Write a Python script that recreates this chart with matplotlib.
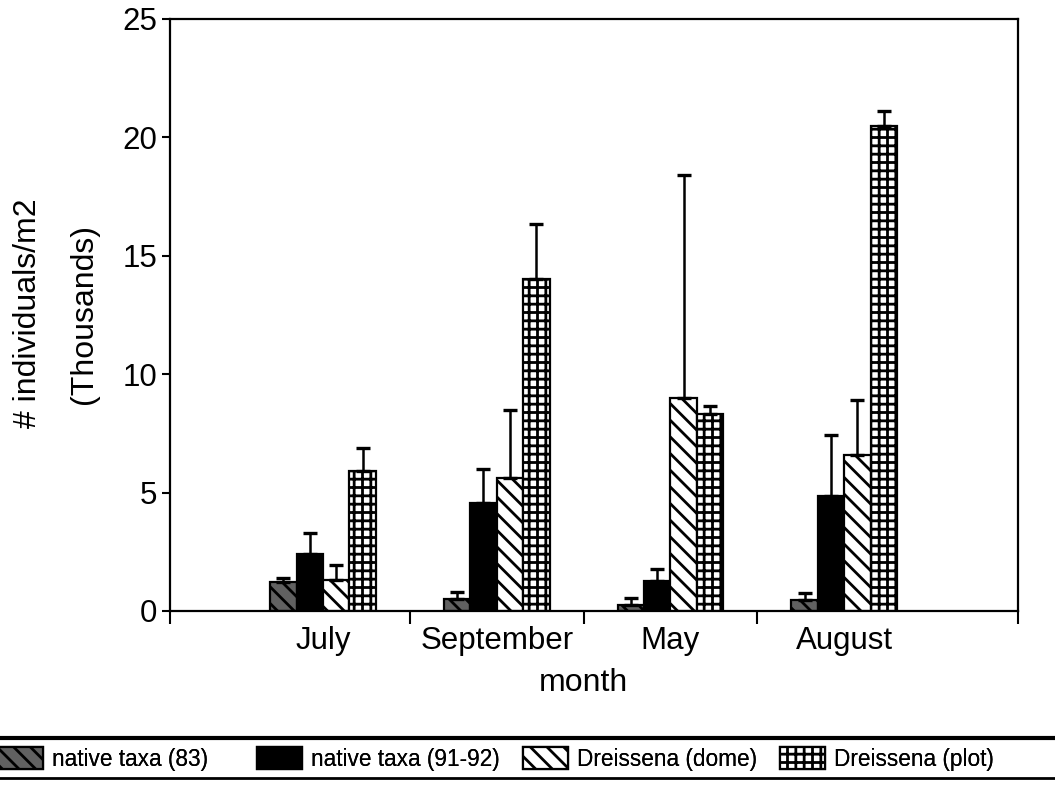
import matplotlib
matplotlib.use("Agg")
import matplotlib.pyplot as plt
import numpy as np
from matplotlib.lines import Line2D

plt.rcParams['font.family'] = ['Liberation Sans', 'DejaVu Sans']
plt.rcParams['hatch.linewidth'] = 2.0

# data (thousands of individuals per m2)
months = ["July", "September", "May", "August"]
series = ["native taxa (83)", "native taxa (91-92)", "Dreissena (dome)", "Dreissena (plot)"]
native83 = [1.22, 0.5, 0.25, 0.46]
native83_err = [0.17, 0.3, 0.3, 0.29]
native91 = [2.4, 4.55, 1.27, 4.86]
native91_err = [0.9, 1.45, 0.5, 2.57]
dome = [1.3, 5.6, 9.0, 6.6]
dome_err = [0.65, 2.9, 9.4, 2.3]
plot_ = [5.9, 14.0, 8.3, 20.5]
plot_err = [1.0, 2.35, 0.35, 0.6]

values = [native83, native91, dome, plot_]
errors = [native83_err, native91_err, dome_err, plot_err]
faces = ['0.38', 'black', 'white', 'white']
hatches = ['\\\\', None, '\\\\', '++']

fig = plt.figure(figsize=(10.55, 7.89), dpi=100)
ax = fig.add_axes([170 / 1055, 1 - 611 / 789, 848 / 1055, 592 / 789])

x = np.arange(len(months))
w = 0.152
handles = []
for i in range(4):
    pos = x + (i - 1.5) * w
    yerr = [np.zeros(len(months)), errors[i]]
    b = ax.bar(pos, values[i], w, color=faces[i], edgecolor='black', linewidth=1.6,
               hatch=hatches[i], yerr=yerr, capsize=5,
               error_kw=dict(ecolor='black', elinewidth=1.8, capthick=2.4), zorder=2)
    handles.append(b.patches[0])

ax.set_xlim(-0.88, 4.0)
ax.set_ylim(0, 25)
ax.set_yticks([0, 5, 10, 15, 20, 25])
ax.tick_params(axis='y', direction='out', length=6, width=1.5, labelsize=22.5, pad=3)

# ticks at group boundaries, labels at group centres
ax.set_xticks([-0.88, 0.5, 1.5, 2.5, 4.0])
ax.set_xticklabels([])
ax.tick_params(axis='x', which='major', direction='out', length=9, width=1.5)
ax.set_xticks(x, minor=True)
ax.set_xticklabels(months, minor=True)
ax.tick_params(axis='x', which='minor', length=0, labelsize=22.5, pad=11)

for s in ax.spines.values():
    s.set_linewidth(1.6)

fig.text(28 / 1055, 1 - 313 / 789, "# individuals/m2", rotation=90, ha='center', va='center', fontsize=23)
fig.text(84 / 1055, 1 - 314 / 789, "(Thousands)", rotation=90, ha='center', va='center', fontsize=23)
fig.text(583 / 1055, 1 - 683 / 789, "month", ha='center', va='center', fontsize=23)

# legend band
fig.add_artist(Line2D([0, 1], [1 - 738 / 789] * 2, transform=fig.transFigure, color='black', lw=3))
fig.add_artist(Line2D([0, 1], [1 - 778 / 789] * 2, transform=fig.transFigure, color='black', lw=2))

leg_x = [-2 / 1055, 257 / 1055, 523 / 1055, 780 / 1055]
for h, lab, lx in zip(handles, series, leg_x):
    lg = fig.legend([h], [lab], loc='center left', bbox_to_anchor=(lx, 1 - 759 / 789),
                    frameon=False, fontsize=16.3, handlelength=2.0, handleheight=1.1,
                    handletextpad=0.4, borderpad=0, borderaxespad=0)
    fig.add_artist(lg)

fig.savefig("out.png", dpi=100)
